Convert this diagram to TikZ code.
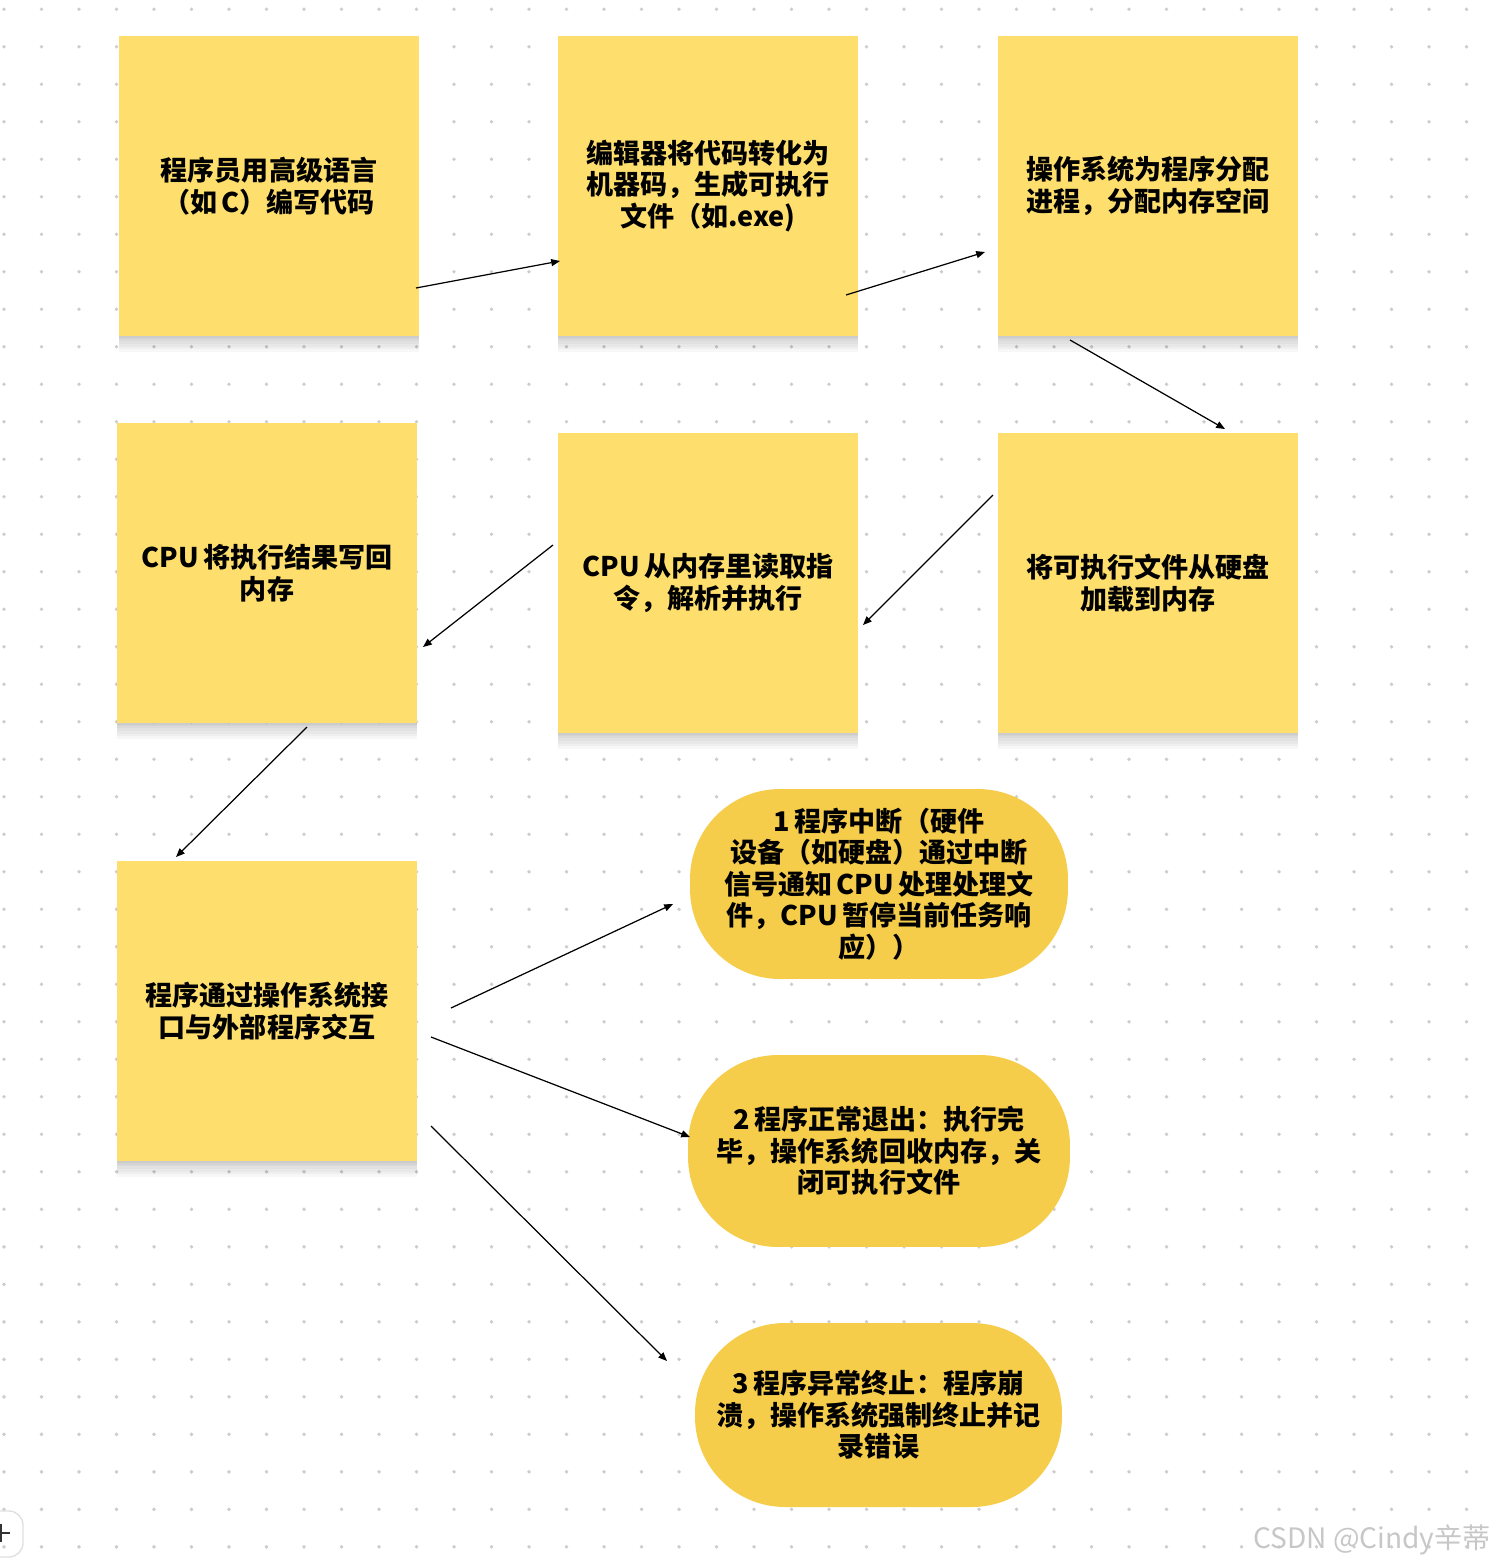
\documentclass[tikz,border=0pt]{standalone}
\usepackage{fontspec}
\newfontfamily\cjk{Noto Sans CJK SC}
\usetikzlibrary{arrows.meta,shadows}
\definecolor{noteyellow}{HTML}{FEDF6D}
\definecolor{pillyellow}{HTML}{F6CD4B}
\definecolor{dotgray}{HTML}{CDCDCD}
\tikzset{
  softshadow/.style={general shadow={fill=black,opacity=.03,shadow yshift=-#1pt,shadow xshift=0pt}},
  note/.style={rectangle,fill=noteyellow,minimum width=6cm,minimum height=6cm,inner sep=0pt,align=center,
    font=\cjk\bfseries\fontsize{15.4}{17.9}\selectfont,
    softshadow=1,softshadow=2,softshadow=3,softshadow=4.5,softshadow=6,softshadow=7.5,softshadow=9},
  pill/.style={rectangle,rounded corners=1.8cm,fill=pillyellow,inner sep=0pt,align=center,
    font=\cjk\bfseries\fontsize{15.4}{17.9}\selectfont},
  link/.style={-{Triangle[length=5pt,width=4pt]},line width=0.7pt,black}
}
\begin{document}
\begin{tikzpicture}[x=0.02cm,y=-0.02cm]
  \useasboundingbox (0,0) rectangle (1492,1566);
  % dotted canvas
  \foreach \i in {0,...,39}
    \foreach \j in {0,...,41}
      \fill[dotgray] ({4+37.5*\i},{9.3+37.5*\j}) circle[radius=1.1pt];

  % sticky notes
  \node[note] (code) at (269,186) {程序员用高级语言\\（如\,C）编写代码};
  \node[note] (compile) at (708,186) {编辑器将代码转化为\\机器码，生成可执行\\文件（如.exe)};
  \node[note] (alloc) at (1148,186) {操作系统为程序分配\\进程，分配内存空间};
  \node[note] (writeback) at (267,573) {CPU\,将执行结果写回\\内存};
  \node[note] (fetch) at (708,583) {CPU\,从内存里读取指\\令，解析并执行};
  \node[note] (load) at (1148,583) {将可执行文件从硬盘\\加载到内存};
  \node[note] (io) at (267,1011) {程序通过操作系统接\\口与外部程序交互};

  % outcomes
  \node[pill,minimum width=7.56cm,minimum height=3.8cm] (intr) at (879,884)
    {1\,程序中断（硬件\\设备（如硬盘）通过中断\\信号通知\,CPU\,处理处理文\\件，CPU\,暂停当前任务响\\应））};
  \node[pill,minimum width=7.64cm,minimum height=3.84cm] (exit) at (879,1151)
    {2\,程序正常退出：执行完\\毕，操作系统回收内存，关\\闭可执行文件};
  \node[pill,minimum width=7.34cm,minimum height=3.68cm] (crash) at (878.5,1415)
    {3\,程序异常终止：程序崩\\溃，操作系统强制终止并记\\录错误};

  % arrow ends
  \coordinate (a1) at (416,288);  \coordinate (b1) at (560,261);
  \coordinate (a2) at (846,295);  \coordinate (b2) at (985,252);
  \coordinate (a3) at (1070,340); \coordinate (b3) at (1225,429);
  \coordinate (a4) at (993,495);  \coordinate (b4) at (863,625);
  \coordinate (a5) at (553,545);  \coordinate (b5) at (423,647);
  \coordinate (a6) at (307,727);  \coordinate (b6) at (176,857);
  \coordinate (a7) at (451,1008); \coordinate (b7) at (673,904);
  \coordinate (a8) at (431,1037); \coordinate (b8) at (690,1137);
  \coordinate (a9) at (431,1126); \coordinate (b9) at (667,1361);

  \foreach \k in {1,...,9}
    \draw[link] (a\k) -- (b\k);

  % canvas button and watermark
  \draw[black!12,line width=0.8pt,rounded corners=8pt] (-30,1511) rectangle (23,1557);
  \draw[black!80,line width=1pt] (0,1533) -- (10,1533) (1,1524) -- (1,1542);
  \node[font=\cjk\fontsize{16}{18}\selectfont,text=black!22] (mark) at (1372,1540) {CSDN @Cindy辛蒂};
\end{tikzpicture}
\end{document}
